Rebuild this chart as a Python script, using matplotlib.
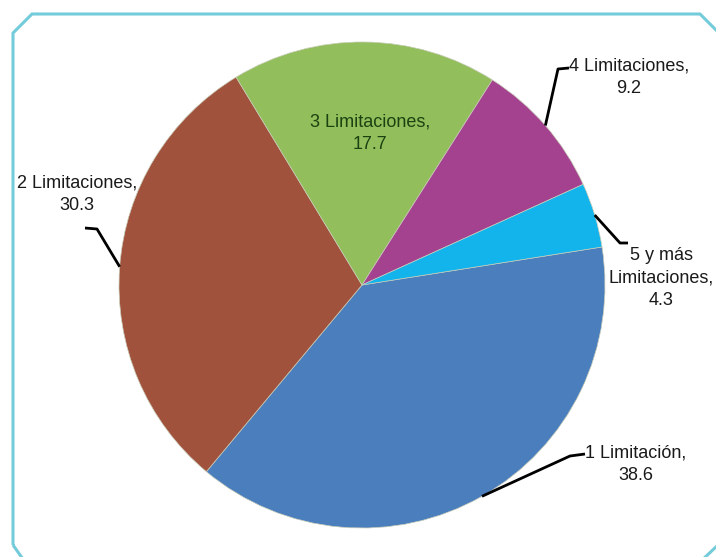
import numpy as np
import matplotlib
matplotlib.use("Agg")
import matplotlib.pyplot as plt
from matplotlib.patches import Polygon

plt.rcParams['font.family'] = ['Liberation Sans', 'DejaVu Sans']

W, H = 716, 557

categorias = ['1 Limitación', '2 Limitaciones', '3 Limitaciones', '4 Limitaciones', '5 y más\nLimitaciones']
valores = [38.6, 30.3, 17.7, 9.2, 4.3]
colores = ['#4A7EBD', '#A0523D', '#92BE5B', '#A5428F', '#13B3EC']

# label block centres (image pixels, y downwards) and leader elbows
pos_texto = [(636, 464), (77, 194), (370, 133), (629, 77), (661, 278)]
codos = [[(570, 456), (585, 454)],
         [(97, 229), (85, 228)],
         None,
         [(558, 69), (569, 68)],
         [(620, 243), (628, 243)]]
color_texto = ['#1a1a1a', '#1a1a1a', '#1B4312', '#1a1a1a', '#1a1a1a']


def px(x, y):
    return x, H - y


fig = plt.figure(figsize=(W / 100, H / 100), dpi=100)
ax = fig.add_axes([0, 0, 1, 1])

# frame with chamfered corners
marco = [px(13, 545), px(13, 33), px(32, 14), px(700, 14), px(718, 32),
         px(718, 545), px(700, 562), px(25, 562)]
ax.add_patch(Polygon(marco, closed=True, fill=False, edgecolor='#74CBDA',
                     linewidth=2.2, joinstyle='miter'))

centro = px(362, 285)
radio = 243
wedges, _ = ax.pie(valores, colors=colores, startangle=9, counterclock=False,
                   center=centro, radius=radio, frame=True,
                   wedgeprops=dict(edgecolor='#C8CCB8', linewidth=0.5))
ax.set_xlim(0, W)
ax.set_ylim(0, H)
ax.set_aspect('equal')
ax.axis('off')

for i, w in enumerate(wedges):
    texto = f"{categorias[i]},\n{valores[i]}"
    x, y = px(*pos_texto[i])
    ax.text(x, y, texto, ha='center', va='center', ma='center',
            fontsize=13, color=color_texto[i], linespacing=1.45)
    if codos[i] is None:
        continue
    ang = np.deg2rad((w.theta1 + w.theta2) / 2)
    x0 = centro[0] + radio * np.cos(ang)
    y0 = centro[1] + radio * np.sin(ang)
    xs = [x0] + [px(*c)[0] for c in codos[i]]
    ys = [y0] + [px(*c)[1] for c in codos[i]]
    ax.plot(xs, ys, color='black', linewidth=2.0, solid_capstyle='butt')

fig.savefig('out.png', dpi=100, facecolor='white')
